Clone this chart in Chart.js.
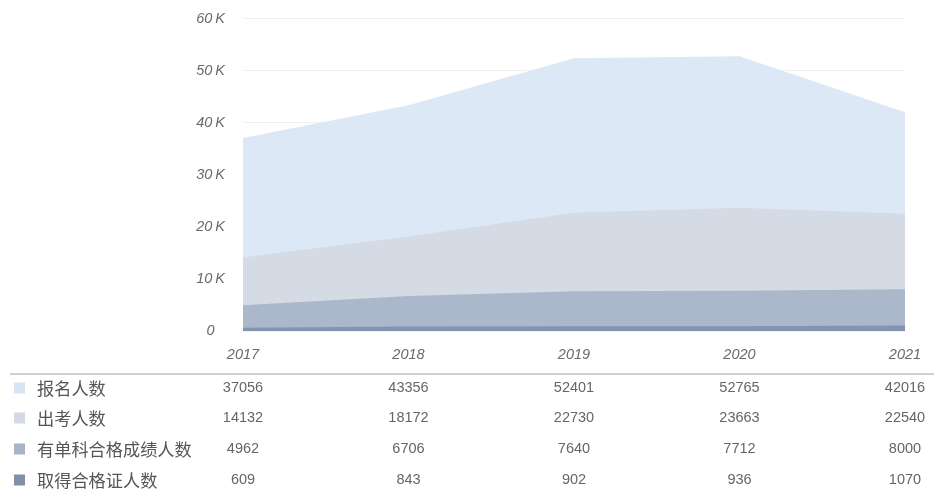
<!DOCTYPE html>
<html>
<head>
<meta charset="utf-8">
<script src="https://cdn.jsdelivr.net/npm/chart.js@4"></script>
<style>
  html, body { margin: 0; padding: 0; background: #fff; }
  #wrap { width: 934px; height: 489px; position: relative; }
</style>
</head>
<body>
<div id="wrap"><canvas id="c" width="934" height="489"></canvas></div>
<script>
const years = ['2017', '2018', '2019', '2020', '2021'];
const seriesNames = ['报名人数', '出考人数', '有单科合格成绩人数', '取得合格证人数'];
const registered = [37056, 43356, 52401, 52765, 42016];
const examined = [14132, 18172, 22730, 23663, 22540];
const singlePass = [4962, 6706, 7640, 7712, 8000];
const certified = [609, 843, 902, 936, 1070];
const yTickLabels = ['0', '10\u2009K', '20\u2009K', '30\u2009K', '40\u2009K', '50\u2009K', '60\u2009K'];
const colors = ['#dce8f5', '#d5dbe5', '#abb7ca', '#8494ae'];
const legendColors = ['#d6e4f3', '#d3d8e4', '#a8b4c8', '#8090ab'];

const allSeries = [registered, examined, singlePass, certified];

const tablePlugin = {
  id: 'dataTable',
  afterDraw(chart) {
    const ctx = chart.ctx;
    const x = chart.scales.x;
    ctx.save();
    ctx.strokeStyle = '#cfcfcf';
    ctx.lineWidth = 2;
    ctx.beginPath();
    ctx.moveTo(10, 374);
    ctx.lineTo(934, 374);
    ctx.stroke();
    const rowY = [388, 418, 449, 480];
    allSeries.forEach((vals, r) => {
      ctx.fillStyle = legendColors[r];
      ctx.fillRect(14, rowY[r] - 5.5, 11, 11);
      ctx.fillStyle = '#555';
      ctx.font = '17.2px "Noto Sans CJK SC", sans-serif';
      ctx.textAlign = 'left';
      ctx.textBaseline = 'middle';
      ctx.fillText(seriesNames[r], 37, rowY[r]);
      ctx.font = '14.5px "Liberation Sans", Arial, sans-serif';
      ctx.fillStyle = '#666';
      ctx.textAlign = 'center';
      vals.forEach((v, i) => {
        ctx.fillText(String(v), x.getPixelForValue(i), rowY[r]);
      });
    });
    ctx.restore();
  }
};

new Chart(document.getElementById('c'), {
  type: 'line',
  data: {
    labels: years,
    datasets: allSeries.map((vals, i) => ({
      label: seriesNames[i],
      data: vals,
      backgroundColor: colors[i],
      borderWidth: 0,
      borderColor: colors[i],
      pointRadius: 0,
      fill: 'origin',
      tension: 0,
      order: 4 - i
    }))
  },
  options: {
    responsive: false,
    animation: false,
    events: [],
    layout: { padding: { left: 0, right: 29, top: 10, bottom: 118 } },
    plugins: { legend: { display: false }, tooltip: { enabled: false } },
    scales: {
      x: {
        offset: false,
        grid: { display: true, drawOnChartArea: false, drawTicks: true, tickLength: 12, color: 'transparent', tickColor: 'transparent' },
        border: { display: false },
        ticks: {
          padding: 3,
          color: '#6a6a6a',
          font: { family: '"Liberation Sans", Arial, sans-serif', size: 14.5, style: 'italic' },
          maxRotation: 0
        },
        afterFit(s) { s.height = 40; }
      },
      y: {
        min: 0,
        max: 60000,
        grid: { color: '#f0f0f0', drawTicks: true, tickLength: 8, tickColor: 'transparent' },
        border: { display: false },
        ticks: {
          stepSize: 10000,
          padding: 10,
          crossAlign: 'center',
          color: '#6a6a6a',
          font: { family: '"Liberation Sans", Arial, sans-serif', size: 14.5, style: 'italic' },
          callback: (v, i) => yTickLabels[i]
        },
        afterFit(s) { s.width = 243; }
      }
    }
  },
  plugins: [tablePlugin]
});
</script>
</body>
</html>
